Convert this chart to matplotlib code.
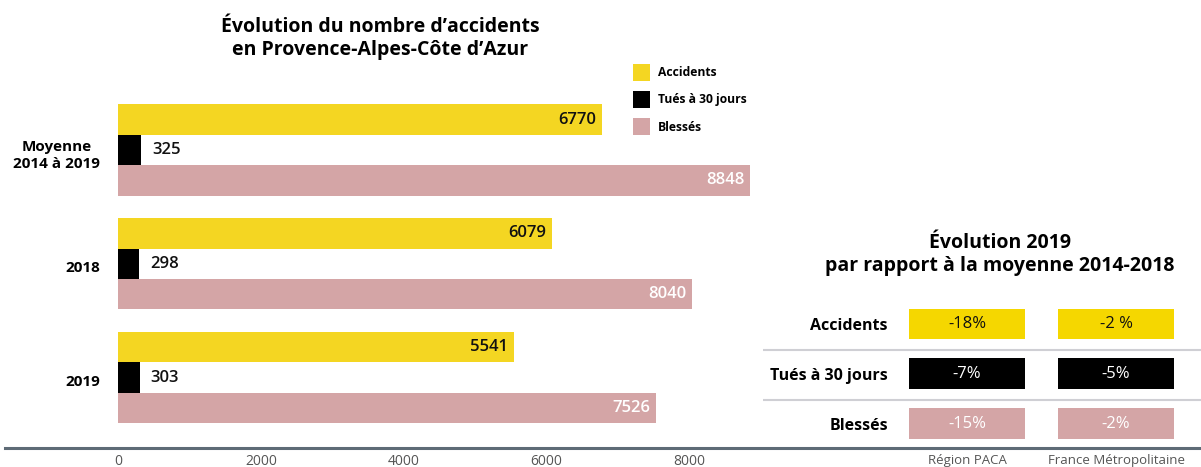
import matplotlib
matplotlib.use('Agg')
import matplotlib.pyplot as plt
from matplotlib.lines import Line2D
from matplotlib.transforms import ScaledTranslation

plt.rcParams['font.family'] = ['Open Sans', 'DejaVu Sans']

W, H = 1201, 467

# left chart data
groups = ['Moyenne\n2014 à 2019', '2018', '2019']
series = ['Accidents', 'Tués à 30 jours', 'Blessés']
accidents = [6770, 6079, 5541]
tues = [325, 298, 303]
blesses = [8848, 8040, 7526]
xticks = [0, 2000, 4000, 6000, 8000]

# right table data
evo_rows = ['Accidents', 'Tués à 30 jours', 'Blessés']
evo_cols = ['Région PACA', 'France Métropolitaine']
evo_paca = ['-18%', '-7%', '-15%']
evo_france = ['-2 %', '-5%', '-2%']

bar_colors = ['#F4D622', '#000000', '#D4A5A6']
cell_colors = ['#F5D700', '#000000', '#D4A5A6']
cell_text = ['#111111', 'white', 'white']
axis_col = '#5E6B76'
tick_col = '#555555'

fig = plt.figure(figsize=(W / 100, H / 100), dpi=100)

# ---- bars ----
ax = fig.add_axes([118 / W, (H - 448) / H, 642 / W, 388 / H])
ax.set_xlim(0, 642 * 8848 / 632)
ax.set_ylim((448 - 150) / 113.75, (60 - 150) / 113.75)

h = 0.268
for k, vals in enumerate([accidents, tues, blesses]):
    ys = [g + (k - 1) * h for g in range(len(groups))]
    ax.barh(ys, vals, height=h, color=bar_colors[k], label=series[k])
    for y, v in zip(ys, vals):
        if k == 1:
            ax.annotate(str(v), (v, y), xytext=(8, 0), textcoords='offset points',
                        ha='left', va='center', fontsize=12, fontweight='semibold', color='#111111')
        else:
            ax.annotate(str(v), (v, y), xytext=(-4, 0), textcoords='offset points',
                        ha='right', va='center', fontsize=12, fontweight='semibold',
                        color='#111111' if k == 0 else 'white')

for s in ax.spines.values():
    s.set_visible(False)
ax.set_xticks(xticks, [str(t) for t in xticks])
ax.set_yticks(range(len(groups)), groups)
ax.tick_params(length=0)
ax.tick_params(axis='x', labelsize=10, labelcolor=tick_col, pad=4)
ax.tick_params(axis='y', labelsize=11, pad=13)
shift = ScaledTranslation(0, -3 / 100, fig.dpi_scale_trans)
for t in ax.get_yticklabels():
    t.set_fontweight('bold')
    t.set_multialignment('center')
    t.set_transform(t.get_transform() + shift)

ax.legend(loc='upper left', bbox_to_anchor=(633 / W, 1 - 64 / H), bbox_transform=fig.transFigure,
          frameon=False, borderpad=0, borderaxespad=0, handlelength=1.41, handleheight=1.79,
          handletextpad=0.66, labelspacing=0.83, prop=dict(weight='bold', size=8.7))

fig.text(380 / W, 1 - 38 / H, 'Évolution du nombre d’accidents\nen Provence-Alpes-Côte d’Azur',
         ha='center', va='center', fontsize=14, fontweight='bold', linespacing=1.2)

# ---- table ----
tax = fig.add_axes([763 / W, (H - 448) / H, 438 / W, 158 / H])
tax.set_xlim((763 - 967) / 149, (1201 - 967) / 149)
tax.set_ylim((448 - 324) / 49.75, (290 - 324) / 49.75)
tax.patch.set_visible(False)

cw, ch = 0.78, 0.62
for i, row in enumerate(evo_rows):
    for j, col_vals in enumerate([evo_paca, evo_france]):
        tax.barh(i, cw, left=j - cw / 2, height=ch, color=cell_colors[i])
        tax.text(j, i, col_vals[i], ha='center', va='center', fontsize=12, color=cell_text[i])
    tax.text((888 - 967) / 149, i + 0.05, row, ha='right', va='center', fontsize=11.5, fontweight='bold')
for i in range(len(evo_rows) - 1):
    tax.axhline(i + 0.53, color='#CFCFD4', lw=1.5)

for s in tax.spines.values():
    s.set_visible(False)
tax.set_xticks(range(len(evo_cols)), evo_cols)
tax.set_yticks([])
tax.tick_params(length=0, labelsize=9.5, labelcolor=tick_col, pad=4)

fig.text(1000 / W, 1 - 255 / H, 'Évolution 2019\npar rapport à la moyenne 2014-2018',
         ha='center', va='center', fontsize=14, fontweight='bold', linespacing=1.2)

# bottom axis line across the whole figure
fig.add_artist(Line2D([5 / W, 1], [(H - 448) / H] * 2, color=axis_col, lw=2.2))

fig.savefig('out.png', dpi=100)
